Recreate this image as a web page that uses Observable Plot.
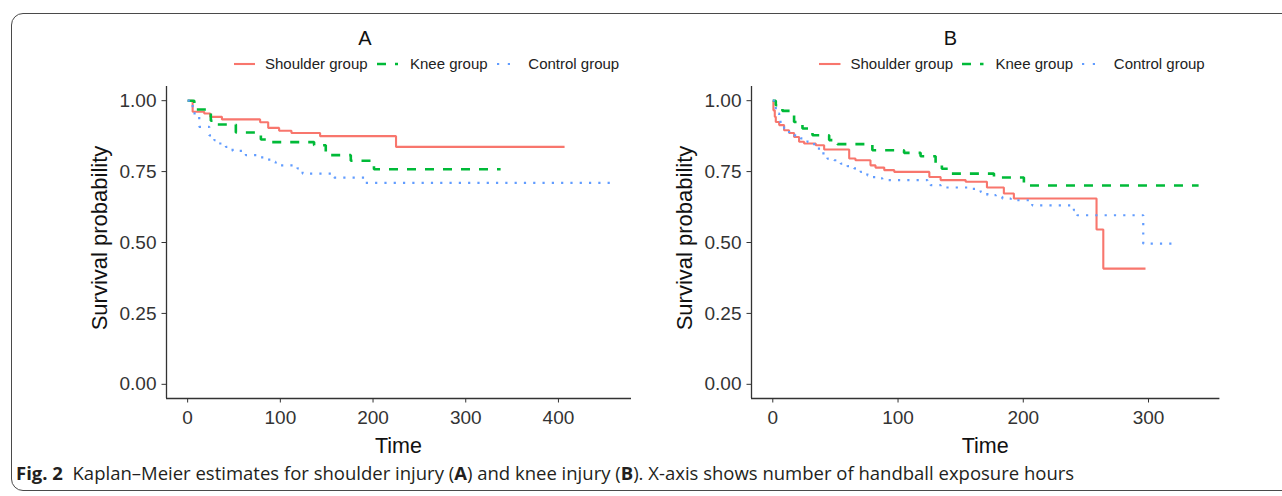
<!DOCTYPE html>
<html><head><meta charset="utf-8">
<script src="https://cdn.jsdelivr.net/npm/d3@7"></script>
<script src="https://cdn.jsdelivr.net/npm/@observablehq/plot@0.6"></script>
<style>
html,body{margin:0;padding:0;background:#fff;}
body{width:1282px;height:496px;overflow:hidden;position:relative;font-family:"Liberation Sans",Arial,sans-serif;color:#111;}
.abs{position:absolute;white-space:nowrap;line-height:1;}
.frame{position:absolute;left:11px;top:13px;width:1320px;height:478px;border:1.5px solid #4a4a4a;border-radius:12px;box-sizing:border-box;}
.caption{font-family:"Open Sans",sans-serif;font-size:18.5px;color:#231f20;}
svg.plot{position:absolute;}
</style></head>
<body>
<div class="frame"></div>
<div id="root"></div>
<script>
// ---------- data ----------
const groups = ["Shoulder group", "Knee group", "Control group"];
const panelTitles = ["A", "B"];
const xTicksA = [0, 100, 200, 300, 400];
const xTicksB = [0, 100, 200, 300];
const yTicks = [0, 0.25, 0.5, 0.75, 1];

// Panel A (shoulder injury)
const shoulderA_t = [0, 5.4, 17.9, 24.4, 37, 78.2, 86.9, 98.7, 112, 142.9, 224.8, 406.6];
const shoulderA_s = [1.00, 0.961, 0.955, 0.943, 0.934, 0.924, 0.904, 0.894, 0.886, 0.875, 0.837, 0.837];
const kneeA_t = [0, 7.2, 25, 32, 52, 79, 90, 136.4, 149, 176, 201, 337.6];
const kneeA_s = [1.00, 0.969, 0.929, 0.916, 0.888, 0.863, 0.854, 0.843, 0.808, 0.788, 0.758, 0.758];
const controlA_t = [0, 5.4, 12.5, 23.3, 28.7, 34, 41.3, 48.5, 62.8, 79, 88, 95, 118.5, 124, 158, 191, 456];
const controlA_s = [1.00, 0.955, 0.908, 0.878, 0.861, 0.849, 0.837, 0.823, 0.808, 0.800, 0.784, 0.772, 0.761, 0.743, 0.729, 0.710, 0.710];

// Panel B (knee injury)
const shoulderB_t = [0, 0.5, 1.6, 2.4, 5.1, 9, 13, 17, 21, 25, 34.3, 41, 61, 66, 78, 82, 89, 97, 125, 134, 154, 171, 184.5, 192.5, 258.5, 263.9, 297.6];
const shoulderB_s = [1.00, 0.966, 0.943, 0.925, 0.914, 0.896, 0.886, 0.872, 0.855, 0.849, 0.843, 0.828, 0.796, 0.790, 0.772, 0.764, 0.755, 0.749, 0.731, 0.720, 0.714, 0.694, 0.673, 0.655, 0.546, 0.408, 0.408];
const kneeB_t = [0, 2.4, 7.7, 17, 23.7, 31.7, 45, 51.6, 79.5, 104.8, 118, 130, 135, 140, 176.6, 200.5, 340];
const kneeB_s = [1.00, 0.984, 0.964, 0.925, 0.902, 0.878, 0.861, 0.847, 0.825, 0.816, 0.804, 0.780, 0.760, 0.743, 0.729, 0.701, 0.701];
const controlB_t = [0, 1.1, 2.4, 5.1, 9, 13, 17, 22.3, 27.7, 31.7, 35.6, 38.3, 43.6, 49, 54.3, 59.6, 64.9, 70.2, 75.5, 80.9, 87.5, 123.4, 126, 134, 160.6, 166, 171.3, 178, 183.3, 190, 207.2, 240.4, 243, 295.8, 319];
const controlB_s = [1.00, 0.978, 0.955, 0.925, 0.902, 0.884, 0.878, 0.867, 0.855, 0.847, 0.831, 0.814, 0.796, 0.790, 0.778, 0.769, 0.761, 0.749, 0.737, 0.726, 0.720, 0.714, 0.702, 0.694, 0.684, 0.678, 0.667, 0.661, 0.655, 0.649, 0.631, 0.614, 0.596, 0.496, 0.496];

const caption = {lead: "Fig. 2", parts: ["  Kaplan\u2013Meier estimates for shoulder injury (", "A", ") and knee injury (", "B", "). X-axis shows number of handball exposure hours"]};

// ---------- styles ----------
const styles = [
  {color: "#F8766D", width: 2.1, dash: null, keyDash: null},
  {color: "#00BA38", width: 2.6, dash: "9,9", keyDash: "9,9"},
  {color: "#619CFF", width: 2.2, dash: "2.2,7.1", keyDash: "2.2,8.6"}
];

const root = document.getElementById("root");

function makePanel(series, xTicks, box) {
  const tmax = d3.max(series.flatMap(s => s.t));
  const pad = 0.05 * tmax;
  const xd = [-pad, tmax + pad];
  const yd = [-0.05, 1.05];
  const marks = [];
  series.forEach((s, i) => {
    const data = s.t.map((t, j) => ({t, s: s.s[j]}));
    marks.push(Plot.line(data, {x: "t", y: "s", curve: "step-after", stroke: styles[i].color,
      strokeWidth: styles[i].width, strokeDasharray: styles[i].dash, strokeLinecap: "butt", strokeLinejoin: "miter"}));
  });
  marks.push(Plot.ruleX([xd[0]], {stroke: "#333", strokeWidth: 1.3}));
  marks.push(Plot.ruleY([yd[0]], {stroke: "#333", strokeWidth: 1.3}));
  marks.push(Plot.axisX(xTicks, {anchor: "bottom", tickSize: 4.5, tickPadding: 7, fontSize: 19, label: null, color: "#333", tickFormat: d => String(d)}));
  marks.push(Plot.axisY(yTicks, {anchor: "left", tickSize: 4.5, tickPadding: 5.5, fontSize: 19, label: null, color: "#333", tickFormat: d3.format(".2f")}));
  const svg = Plot.plot({
    width: box.width, height: box.height,
    marginLeft: box.ml, marginRight: box.mr, marginTop: box.mt, marginBottom: box.mb,
    x: {domain: xd}, y: {domain: yd},
    style: {fontFamily: "Liberation Sans, Arial, sans-serif", fontSize: "19px", background: "transparent", color: "#222", overflow: "visible"},
    marks
  });
  svg.classList.add("plot");
  svg.style.left = box.left + "px";
  svg.style.top = box.top + "px";
  root.appendChild(svg);
}

function addText(str, x, baseline, size, opts = {}) {
  const d = document.createElement("div");
  d.className = "abs";
  d.textContent = str;
  d.style.fontSize = size + "px";
  d.style.top = (baseline - 0.8465 * size) + "px";
  d.style.left = x + "px";
  if (opts.center) d.style.transform = "translateX(-50%)";
  if (opts.color) d.style.color = opts.color;
  root.appendChild(d);
  return d;
}

function addYTitle(str, cx, cy, size) {
  const d = document.createElement("div");
  d.className = "abs";
  d.textContent = str;
  d.style.fontSize = size + "px";
  d.style.left = cx + "px";
  d.style.top = cy + "px";
  d.style.transform = "translate(-50%,-50%) rotate(-90deg)";
  root.appendChild(d);
}

function addKey(i, x, y, len) {
  const ns = "http://www.w3.org/2000/svg";
  const s = document.createElementNS(ns, "svg");
  s.setAttribute("width", len); s.setAttribute("height", 6);
  s.style.position = "absolute"; s.style.left = x + "px"; s.style.top = (y - 3) + "px";
  const l = document.createElementNS(ns, "line");
  l.setAttribute("x1", 0); l.setAttribute("x2", len); l.setAttribute("y1", 3); l.setAttribute("y2", 3);
  l.setAttribute("stroke", styles[i].color); l.setAttribute("stroke-width", styles[i].width);
  if (styles[i].keyDash) l.setAttribute("stroke-dasharray", styles[i].keyDash);
  s.appendChild(l);
  root.appendChild(s);
}

function decorate(dx, title, plotLeft, plotRight) {
  addText(title, 365 + dx, 45, 20, {center: true, color: "#111"});
  const keyX = [233.5, 376.7, 496.7];
  const textX = [265, 410, 528.3];
  groups.forEach((g, i) => {
    addKey(i, keyX[i] + dx, 63.5, 21.5);
    addText(g, textX[i] + dx, 69, 15, {color: "#222"});
  });
  addText("Time", (plotLeft + plotRight) / 2, 454.5, 21.5, {center: true, color: "#111"});
  addYTitle("Survival probability", plotLeft - 66.5, 238, 22);
}

makePanel([
  {t: shoulderA_t, s: shoulderA_s}, {t: kneeA_t, s: kneeA_s}, {t: controlA_t, s: controlA_s}
], xTicksA, {left: 0, top: 80, width: 640, height: 390, ml: 166, mr: 9, mt: 6, mb: 72});
decorate(0, panelTitles[0], 166, 631);

makePanel([
  {t: shoulderB_t, s: shoulderB_s}, {t: kneeB_t, s: kneeB_s}, {t: controlB_t, s: controlB_s}
], xTicksB, {left: 600, top: 80, width: 630, height: 390, ml: 151, mr: 10.6, mt: 6, mb: 72});
decorate(585.5, panelTitles[1], 751, 1219.4);

// caption
const cap = document.createElement("div");
cap.className = "abs caption";
cap.style.left = "16px";
cap.style.top = (482 - 0.86 * 18.5 - 2) + "px";
const b = document.createElement("b"); b.textContent = caption.lead; cap.appendChild(b);
caption.parts.forEach((p, i) => {
  if (i === 1 || i === 3) { const e = document.createElement("b"); e.textContent = p; cap.appendChild(e); }
  else cap.appendChild(document.createTextNode(p));
});
cap.style.whiteSpace = "pre";
root.appendChild(cap);
</script>
</body></html>
